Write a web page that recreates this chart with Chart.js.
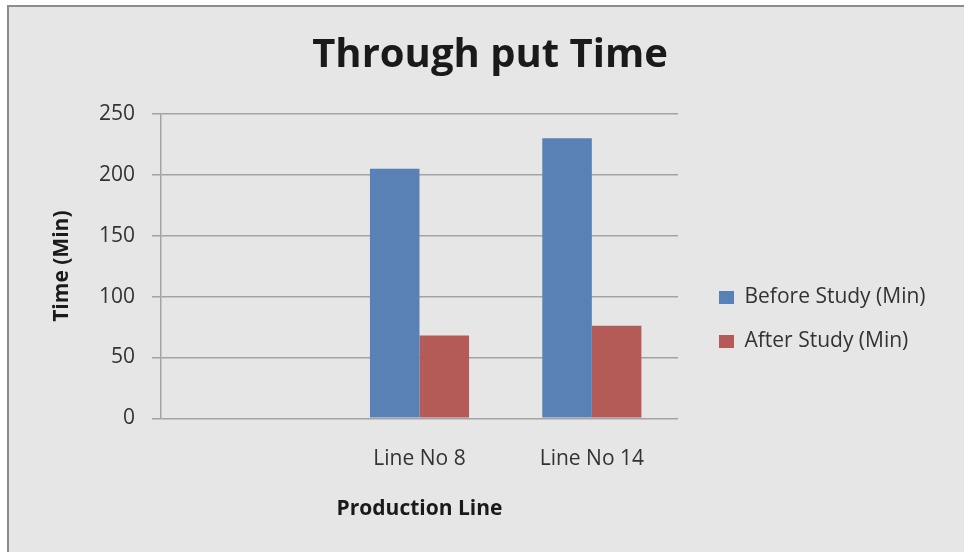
<!DOCTYPE html>
<html>
<head>
<meta charset="utf-8">
<title>Through put Time</title>
<script src="https://cdn.jsdelivr.net/npm/chart.js@4/dist/chart.umd.min.js"></script>
<style>
  html, body { margin: 0; padding: 0; background: #ffffff; }
  #wrap { width: 964px; height: 552px; position: relative; }
  canvas { display: block; }
</style>
</head>
<body>
<div id="wrap"><canvas id="chart" width="964" height="552"></canvas></div>
<script>
// Production lines on the category axis (the first slot is left empty)
const categories = ['', 'Line No 8', 'Line No 14'];

// Throughput time per line, in minutes
const beforeStudy = [null, 205, 230];
const afterStudy = [null, 68, 76];

const seriesNames = ['Before Study (Min)', 'After Study (Min)'];
const yTickValues = [0, 50, 100, 150, 200, 250];

const FONT = '"Open Sans", "DejaVu Sans", sans-serif';
const GRID = '#a3a3a3';

// Light grey panel with a darker frame along its top and left edges
const panelBackground = {
  id: 'panelBackground',
  beforeDraw(chart) {
    const { ctx, width, height } = chart;
    ctx.save();
    ctx.fillStyle = '#ffffff';
    ctx.fillRect(0, 0, width, height);
    ctx.fillStyle = '#e6e6e6';
    ctx.fillRect(7, 5, width - 7, height - 5);
    ctx.fillStyle = '#8c8c8c';
    ctx.fillRect(7, 5, width - 7, 2);
    ctx.fillRect(7, 5, 2, height - 5);
    ctx.restore();
  }
};

// Shifts the title and legend blocks after the layout pass
const blockNudge = {
  id: 'blockNudge',
  afterLayout(chart, args, opts) {
    const shift = (box, o) => {
      if (!box || !o) return;
      box.left += o.x || 0; box.right += o.x || 0;
      box.top += o.y || 0; box.bottom += o.y || 0;
    };
    shift(chart.legend, opts.legend);
    shift(chart.titleBlock, opts.title);
    // keep the whole legend text inside its clip box
    if (chart.legend) chart.legend.right = chart.width;
  }
};

new Chart(document.getElementById('chart'), {
  type: 'bar',
  data: {
    labels: categories,
    datasets: [
      { label: seriesNames[0], data: beforeStudy, backgroundColor: '#5981b5' },
      { label: seriesNames[1], data: afterStudy, backgroundColor: '#b45a57' }
    ]
  },
  options: {
    responsive: false,
    devicePixelRatio: 1,
    animation: false,
    categoryPercentage: 0.575,
    barPercentage: 1,
    layout: { padding: { left: 9, top: 0, right: 63, bottom: 0 } },
    plugins: {
      title: {
        display: true,
        text: 'Through put Time',
        color: '#1a1a1a',
        font: { family: FONT, size: 40, weight: 'bold', lineHeight: 1.2 },
        padding: { top: 32, bottom: 34 }
      },
      legend: {
        display: true,
        position: 'right',
        align: 'start',
        fullSize: false,
        labels: {
          boxWidth: 15,
          boxHeight: 13,
          padding: 23,
          color: '#333333',
          font: { family: FONT, size: 21 }
        }
      },
      blockNudge: { legend: { x: 18, y: 150 }, title: { x: 35 } },
      tooltip: { enabled: false }
    },
    scales: {
      x: {
        grid: { display: false, drawTicks: false },
        border: { display: false },
        ticks: {
          color: '#333333',
          padding: 28,
          font: { family: FONT, size: 21 }
        },
        title: {
          display: true,
          text: 'Production Line',
          color: '#1a1a1a',
          font: { family: FONT, size: 21, weight: 'bold', lineHeight: 1.2 },
          padding: { top: 0, bottom: 30 }
        },
        afterFit(scale) { scale.height = 133.7; }
      },
      y: {
        min: 0,
        max: 250,
        afterBuildTicks(scale) { scale.ticks = yTickValues.map(v => ({ value: v })); },
        grid: { color: GRID, lineWidth: 1.5, tickLength: 9, drawTicks: true, tickColor: GRID },
        border: { display: true, color: GRID, width: 1.5 },
        ticks: {
          color: '#333333',
          padding: 17,
          font: { family: FONT, size: 21 }
        },
        title: {
          display: true,
          text: 'Time (Min)',
          color: '#1a1a1a',
          font: { family: FONT, size: 21, weight: 'bold', lineHeight: 1.2 },
          padding: { top: 40, bottom: 0 }
        },
        afterFit(scale) { scale.width = 152; }
      }
    }
  },
  plugins: [panelBackground, blockNudge]
});
</script>
</body>
</html>
